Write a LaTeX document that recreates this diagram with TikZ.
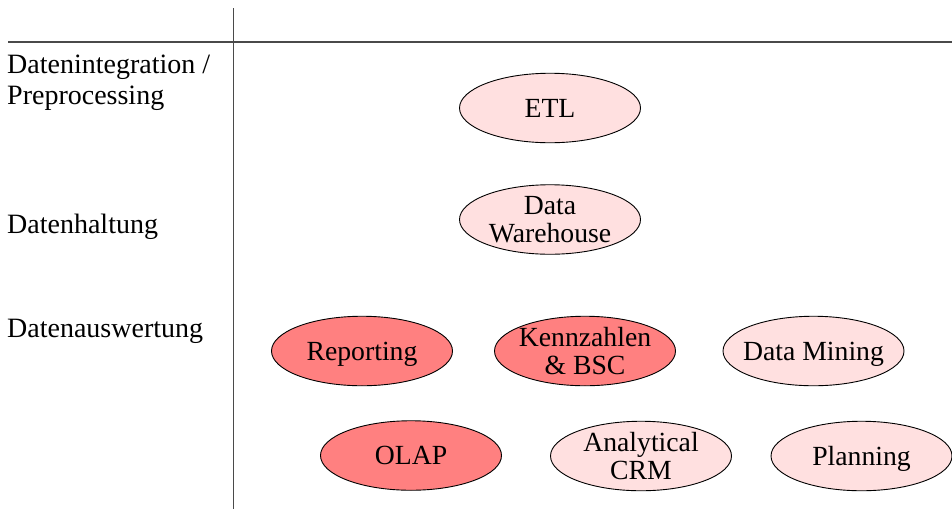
\documentclass[tikz,border=0pt]{standalone}
\usepackage{fontspec}
\setmainfont{Liberation Serif}
\usetikzlibrary{shapes.geometric}
\definecolor{darkfill}{HTML}{FF8080}
\definecolor{lightfill}{HTML}{FFE0E0}
\definecolor{rulecol}{HTML}{4A4A4A}
\tikzset{
  blob/.style={ellipse, draw=black, line width=0.9pt, minimum width=181pt, minimum height=69.5pt,
    inner xsep=-12pt, inner ysep=0pt, align=center, font=\fontsize{27.7}{28.5}\selectfont},
  oneline/.style={text height=18.5pt, text depth=0pt},
  hot/.style={blob, fill=darkfill},
  cool/.style={blob, fill=lightfill},
  rowlabel/.style={inner sep=0pt, align=left, font=\fontsize{28}{31}\selectfont},
  rulestyle/.style={draw=rulecol, line width=1.3pt}
}
\begin{document}
\begin{tikzpicture}[x=1pt, y=-1pt]
\useasboundingbox (0,0) rectangle (952,509);
% frame lines
\coordinate (hl) at (8,42);
\coordinate (hr) at (952,42);
\coordinate (vt) at (233.5,8);
\coordinate (vb) at (233.5,509);
\draw[rulestyle] (hl) -- (hr);
\draw[rulestyle] (vt) -- (vb);
% row labels
\node[rowlabel, anchor=north west] (l1) at (7,55) {Datenintegration /\\Preprocessing};
\node[rowlabel, anchor=base west] (l2) at (7,233) {Datenhaltung};
\node[rowlabel, anchor=base west] (l3) at (7,337) {Datenauswertung};
% ellipses
\node[cool, oneline] (etl) at (550,108) {ETL};
\node[cool] (dw) at (550,219.5) {Data\\Warehouse};
\node[hot, oneline] (rep) at (362,351) {Reporting};
\node[hot] (kz) at (585,351) {Kennzahlen\\\& BSC};
\node[cool, oneline] (dm) at (813.5,351) {Data Mining};
\node[hot, oneline] (olap) at (411,455.5) {OLAP};
\node[cool] (crm) at (641,456) {Analytical\\CRM};
\node[cool, oneline] (plan) at (861.5,456) {Planning};
\end{tikzpicture}
\end{document}
